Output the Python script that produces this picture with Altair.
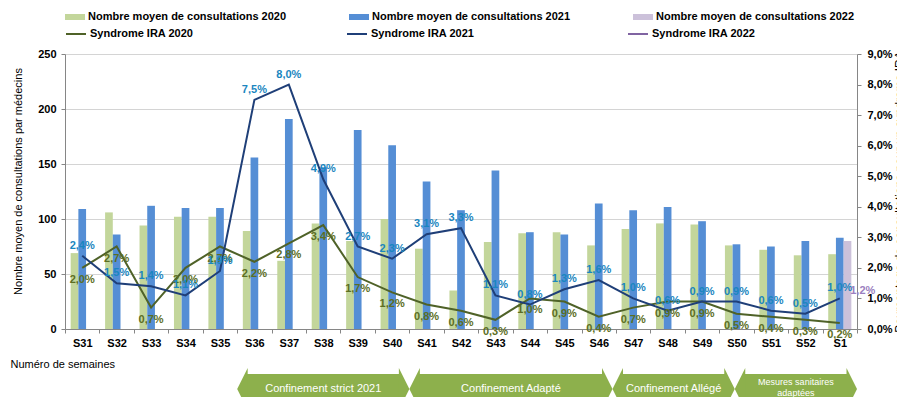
import altair as alt
import pandas as pd

weeks = ["S31", "S32", "S33", "S34", "S35", "S36", "S37", "S38", "S39", "S40", "S41", "S42",
         "S43", "S44", "S45", "S46", "S47", "S48", "S49", "S50", "S51", "S52", "S1"]
years = ["2020", "2021", "2022"]

cons_2020 = [69, 106, 94, 102, 102, 89, 62, 96, 80, 100, 73, 35, 79, 87, 88, 76, 91, 96, 95, 76, 72, 67, 68]
cons_2021 = [109, 86, 112, 110, 110, 156, 191, 147, 181, 167, 134, 108, 144, 88, 86, 114, 108, 111, 98, 77, 75, 80, 83]
cons_2022 = [None] * 22 + [80]

ira_2020 = [2.0, 2.7, 0.7, 2.0, 2.7, 2.2, 2.8, 3.4, 1.7, 1.2, 0.8, 0.6, 0.3, 1.0, 0.9, 0.4, 0.7, 0.9, 0.9, 0.5, 0.4, 0.3, 0.2]
ira_2021 = [2.4, 1.5, 1.4, 1.1, 1.9, 7.5, 8.0, 4.9, 2.7, 2.3, 3.1, 3.3, 1.1, 0.8, 1.3, 1.6, 1.0, 0.6, 0.9, 0.9, 0.6, 0.5, 1.0]
ira_2022 = [None] * 22 + [1.2]

bar_series = ["Nombre moyen de consultations 2020", "Nombre moyen de consultations 2021",
              "Nombre moyen de consultations 2022"]
line_series = ["Syndrome IRA 2020", "Syndrome IRA 2021", "Syndrome IRA 2022"]
bar_colors = ["#c3d69b", "#558ed5", "#ccc1da"]
line_colors = ["#4f6228", "#1f3f78", "#8064a2"]
label_colors = ["#5c6e24", "#1a86c0", "#9b7fc0"]

phases = ["Confinement strict 2021", "Confinement Adapté", "Confinement Allégé", "Mesures sanitaires|adaptées"]
phase_start = [5.0, 10.0, 15.9, 19.45]
phase_end = [10.0, 15.9, 19.45, 23.0]

# ---- tables ----
bar_rows = []
for yr, ser, vals in zip(years, bar_series, [cons_2020, cons_2021, cons_2022]):
    for w, v in zip(weeks, vals):
        if v is not None:
            bar_rows.append({"week": w, "year": yr, "series": ser, "value": v})
bar_df = pd.DataFrame(bar_rows)

line_rows = []
for yr, ser, vals in zip(years, line_series, [ira_2020, ira_2021, ira_2022]):
    for w, v in zip(weeks, vals):
        if v is not None:
            line_rows.append({"week": w, "year": yr, "lseries": ser, "pct": v,
                              "label": f"{v:.1f}".replace(".", ",") + "%"})
line_df = pd.DataFrame(line_rows)

phase_df = pd.DataFrame({"phase": phases, "start": phase_start, "end": phase_end})

FONT = "Liberation Sans"
AX = "#868686"

x_enc = alt.X("week:N", sort=weeks,
              scale=alt.Scale(paddingInner=0, paddingOuter=0),
              axis=alt.Axis(title="Numéro de semaines", labelAngle=0, labelFontWeight="bold",
                            labelFontSize=11, labelColor="#000000", tickBand="extent",
                            tickSize=4, tickColor=AX, domainColor=AX, labelPadding=4,
                            grid=False, titleX=-55, titleY=35, titleAlign="left",
                            titleAnchor="start", titleBaseline="middle", titleFontWeight="normal",
                            titleFontSize=11, titleColor="#000000"))

bars = alt.Chart(bar_df).mark_bar().encode(
    x=x_enc,
    xOffset=alt.XOffset("year:N", sort=years,
                        scale=alt.Scale(domain=years, paddingInner=0, paddingOuter=0.735)),
    y=alt.Y("value:Q", scale=alt.Scale(domain=[0, 250], nice=False),
            axis=alt.Axis(values=[0, 50, 100, 150, 200, 250], orient="left",
                          title="Nombre moyen de consultations par médecins",
                          titleFontWeight="normal", titleFontSize=11, titleColor="#000000",
                          titleX=-47, titleY=127, titleBaseline="middle", titleAngle=270,
                          labelFontWeight="bold", labelFontSize=11, labelColor="#000000",
                          tickSize=4, tickColor=AX, domainColor=AX, labelPadding=5,
                          grid=True, gridColor="#d4d4d4")),
    color=alt.Color("series:N", scale=alt.Scale(domain=bar_series, range=bar_colors),
                    legend=alt.Legend(title=None, orient="none", legendX=0, legendY=-47,
                                      direction="horizontal", columns=3,
                                      symbolType="M -1 -0.3 L 1 -0.3 L 1 0.3 L -1 0.3 Z",
                                      symbolSize=400, symbolStrokeWidth=0, labelOffset=3,
                                      labelFontSize=11, labelFontWeight="bold", labelLimit=400,
                                      columnPadding=62, padding=0, labelColor="#000000")),
)

base_line = alt.Chart(line_df).encode(
    x=x_enc,
    y=alt.Y("pct:Q", scale=alt.Scale(domain=[0, 9], nice=False),
            axis=alt.Axis(values=list(range(10)), orient="right",
                          labelExpr="replace(format(datum.value, '.1f'), '.', ',') + '%'",
                          title="Pourcentage de consultations pour un syndrome IRA",
                          titleFontWeight="normal", titleFontSize=12, titleColor="#000000",
                          titleAngle=270, titleX=42, titleBaseline="middle",
                          labelFontWeight="bold", labelFontSize=11, labelColor="#000000",
                          tickSize=4, tickColor=AX, domainColor=AX, labelPadding=6, grid=False)),
)

lines = base_line.mark_line(strokeWidth=2).encode(
    stroke=alt.Stroke("lseries:N", scale=alt.Scale(domain=line_series, range=line_colors),
                      legend=alt.Legend(title=None, orient="none", legendX=0, legendY=-31,
                                        direction="horizontal", columns=3, symbolType="stroke",
                                        symbolSize=400, symbolStrokeWidth=2, labelOffset=3,
                                        labelFontSize=11, labelFontWeight="bold", labelLimit=400,
                                        columnPadding=149, padding=0, labelColor="#000000")),
)

label_dy = {"2020": 12, "2021": -10, "2022": -1}
label_dx = {"2020": 0, "2021": 0, "2022": 23}
texts = []
for yr, col in zip(years, label_colors):
    texts.append(
        base_line.transform_filter(alt.datum.year == yr)
        .mark_text(fontSize=11, fontWeight="bold", color=col, dy=label_dy[yr], dx=label_dx[yr])
        .encode(text="label:N")
    )

line_group = alt.layer(lines, *texts)
main = alt.layer(bars, line_group).resolve_scale(y="independent")

qscale = alt.Scale(domain=[0, 23], nice=False, zero=False)
ARROW = "#8db04c"
body = alt.Chart(phase_df).mark_rect(color=ARROW, xOffset=9, x2Offset=-9).encode(
    x=alt.X("start:Q", scale=qscale, axis=None), x2="end:Q",
    y=alt.value(320), y2=alt.value(350))
lhead = alt.Chart(phase_df).mark_point(shape="M 0 0 L 0.5 -1 L 0.5 1 Z", filled=True,
                                       size=1764, color=ARROW, opacity=1, strokeWidth=0).encode(
    x=alt.X("start:Q", scale=qscale, axis=None), y=alt.value(335))
rhead = alt.Chart(phase_df).mark_point(shape="M 0 0 L -0.5 -1 L -0.5 1 Z", filled=True,
                                       size=1764, color=ARROW, opacity=1, strokeWidth=0).encode(
    x=alt.X("end:Q", scale=qscale, axis=None), y=alt.value(335))
atext1 = alt.Chart(phase_df).transform_filter(
    "indexof(datum.phase, '|') < 0"
).transform_calculate(
    mid="(datum.start + datum.end) / 2"
).mark_text(color="white", fontSize=11, baseline="middle").encode(
    x=alt.X("mid:Q", scale=qscale, axis=None), y=alt.value(335), text="phase:N")
atext2 = alt.Chart(phase_df).transform_filter(
    "indexof(datum.phase, '|') >= 0"
).transform_calculate(
    mid="(datum.start + datum.end) / 2"
).mark_text(color="white", fontSize=9, baseline="middle", lineBreak="|", lineHeight=11).encode(
    x=alt.X("mid:Q", scale=qscale, axis=None), y=alt.value(328), text="phase:N")
arrows = alt.layer(body, lhead, rhead, atext1, atext2)

chart = alt.layer(main, arrows).resolve_scale(x="independent", y="independent").properties(
    width=792, height=275,
    autosize=alt.AutoSizeParams(type="none"),
    padding={"left": 57, "top": 46, "right": 40, "bottom": 68},
).configure(font=FONT).configure_view(stroke=None)

chart.save("out.html", embed_options={"renderer": "svg", "actions": False})
